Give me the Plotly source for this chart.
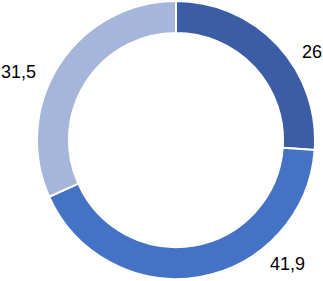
import plotly.graph_objects as go

labels = ["A", "B", "C"]
values = [26, 41.9, 31.5]
value_text = ["26", "41,9", "31,5"]
colors = ["#3B5DA6", "#4472C4", "#A6B5DA"]

W, H = 323, 281
cx, cy, r = 176, 140, 139

fig = go.Figure(go.Pie(
    labels=labels,
    values=values,
    hole=0.77,
    sort=False,
    direction="clockwise",
    rotation=0,
    textinfo="none",
    hoverinfo="label+value",
    marker=dict(colors=colors, line=dict(color="white", width=2)),
    domain=dict(x=[(cx - r) / W, (cx + r) / W], y=[(H - cy - r) / H, (H - cy + r) / H]),
    showlegend=False,
))

label_pos = [(312, 52), (287, 264), (18, 72)]
for t, (px, py) in zip(value_text, label_pos):
    fig.add_annotation(x=px / W, y=1 - py / H, xref="paper", yref="paper",
                       text=t, showarrow=False,
                       font=dict(family="Liberation Sans, Arial", size=18, color="#000000"),
                       xanchor="center", yanchor="middle")

fig.update_layout(width=W, height=H, margin=dict(l=0, r=0, t=0, b=0),
                  paper_bgcolor="white", plot_bgcolor="white")

fig.write_html("out.html", config={"displayModeBar": False},
               post_script="document.body.style.margin='0';document.body.style.overflow='hidden';")
